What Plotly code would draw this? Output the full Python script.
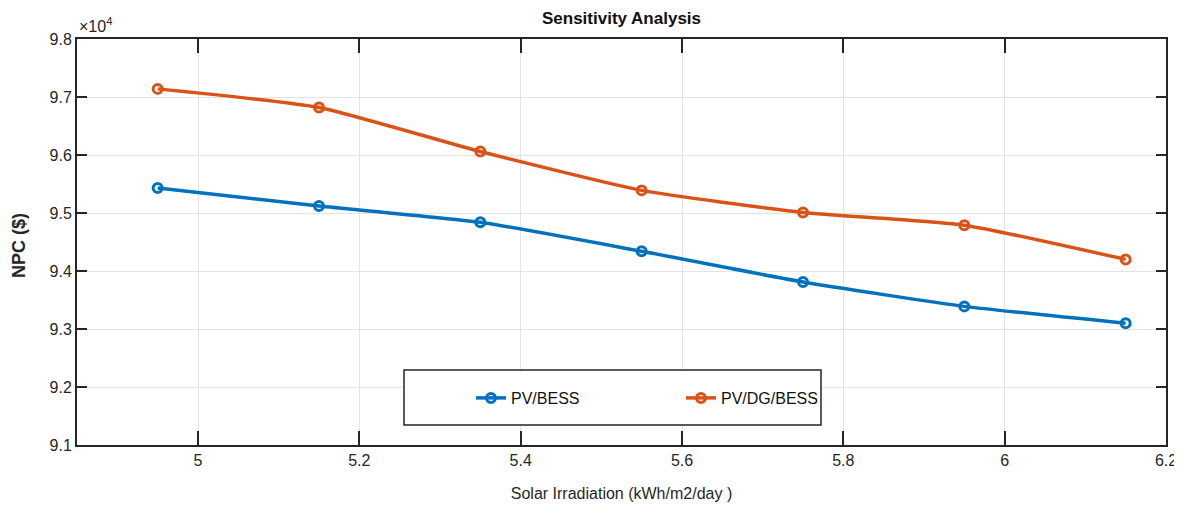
import plotly.graph_objects as go

irradiation = [4.95, 5.15, 5.35, 5.55, 5.75, 5.95, 6.15]
npc_pv_bess = [9.543, 9.512, 9.484, 9.434, 9.381, 9.339, 9.310]
npc_pv_dg_bess = [9.714, 9.682, 9.606, 9.539, 9.501, 9.479, 9.420]
x_ticks = [5, 5.2, 5.4, 5.6, 5.8, 6, 6.2]
y_ticks = [9.1, 9.2, 9.3, 9.4, 9.5, 9.6, 9.7, 9.8]

FONT = "Liberation Sans Narrow, Liberation Sans, Arial"

fig = go.Figure()
fig.add_trace(go.Scatter(
    x=irradiation, y=npc_pv_bess, name="PV/BESS", mode="lines+markers",
    line=dict(color="#0072BD", width=3.5, shape="spline", smoothing=0.5),
    marker=dict(symbol="circle-open", size=9, color="#0072BD", line=dict(width=3)),
))
fig.add_trace(go.Scatter(
    x=irradiation, y=npc_pv_dg_bess, name="PV/DG/BESS", mode="lines+markers",
    line=dict(color="#D95319", width=3.5, shape="spline", smoothing=0.5),
    marker=dict(symbol="circle-open", size=9, color="#D95319", line=dict(width=3)),
))

axis_common = dict(
    showgrid=True, gridcolor="#E3E3E3", gridwidth=1,
    showline=True, linecolor="#262626", linewidth=2, mirror="ticks",
    ticks="inside", tickcolor="#262626", tickwidth=1.5,
    tickfont=dict(family=FONT, size=16, color="#262626"),
    zeroline=False, automargin=False,
)

fig.update_xaxes(
    range=[4.85, 6.2], tickvals=x_ticks, ticktext=[f"{v:g}" for v in x_ticks],
    ticklen=14,
    title=dict(text="Solar Irradiation (kWh/m2/day )", font=dict(family=FONT, size=16, color="#262626"), standoff=20),
    **axis_common,
)
fig.update_yaxes(
    range=[9.1, 9.8], tickvals=y_ticks, ticktext=[f"{v:.1f}" for v in y_ticks],
    ticklen=10,
    **axis_common,
)

fig.add_annotation(text="<b>NPC ($)</b>", xref="paper", yref="paper", x=-58 / 1089, y=0.49,
                   xanchor="center", yanchor="middle", textangle=-90, showarrow=False,
                   font=dict(family="Liberation Sans, Arial", size=18, color="#262626"))

fig.add_shape(type="rect", xref="paper", yref="paper",
              x0=(404 - 77) / 1089, x1=(821 - 77) / 1089,
              y0=(445 - 425) / 406, y1=(445 - 370) / 406,
              line=dict(color="#262626", width=1.5), fillcolor="white", layer="above")

fig.add_annotation(text="×10<sup>4</sup>", xref="paper", yref="paper", x=0, y=1,
                   xanchor="left", yanchor="bottom", showarrow=False, yshift=2,
                   font=dict(family=FONT, size=16, color="#262626"))

fig.update_layout(
    width=1174, height=506,
    margin=dict(l=69, r=16, t=31, b=69),
    paper_bgcolor="white", plot_bgcolor="white",
    title=dict(text="<b>Sensitivity Analysis</b>", x=0.5, xref="paper", y=1, yref="paper",
               yanchor="bottom", pad=dict(b=15),
               font=dict(family=FONT, size=17, color="#111111")),
    showlegend=True,
    legend=dict(orientation="h", x=(471 - 77) / 1089, y=(445 - 398) / 406,
                xanchor="left", yanchor="middle", bgcolor="rgba(0,0,0,0)",
                borderwidth=0, entrywidth=165, entrywidthmode="pixels",
                font=dict(family=FONT, size=16, color="#111111"), itemwidth=30),
    font=dict(family=FONT),
)

fig.write_html("out.html")
